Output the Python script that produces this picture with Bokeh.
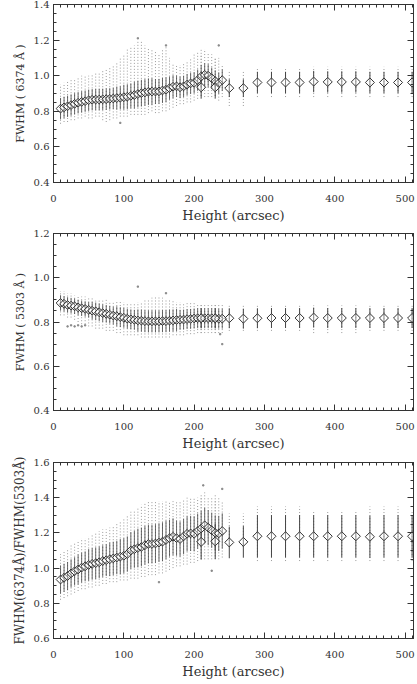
import math
from bokeh.plotting import figure
from bokeh.models import Range1d, LinearAxis, SingleIntervalTicker, PrintfTickFormatter
from bokeh.layouts import column
from bokeh.embed import file_html
from bokeh.resources import INLINE

# ---------------- data ----------------
x_dense = [10, 15, 20, 25, 30, 35, 40, 45, 50, 55, 60, 65, 70, 75, 80, 85, 90, 95,
           100, 105, 110, 115, 120, 125, 130, 135, 140, 145, 150, 155, 160, 165, 170,
           175, 180, 185, 190, 195, 200, 205, 210, 215, 220, 225, 230, 235, 240]
x_sparse = [210, 230, 250, 270, 290, 310, 330, 350, 370, 390, 410, 430, 450, 470, 490, 510]

# panel 1 : FWHM 6374
red_mean = [0.815, 0.822, 0.828, 0.835, 0.842, 0.848, 0.853, 0.857, 0.862, 0.865, 0.866, 0.866,
            0.867, 0.868, 0.870, 0.872, 0.874, 0.876, 0.879, 0.882, 0.887, 0.891, 0.897, 0.902,
            0.906, 0.910, 0.911, 0.911, 0.912, 0.917, 0.921, 0.930, 0.938, 0.940, 0.935, 0.940,
            0.950, 0.957, 0.960, 0.975, 0.995, 1.005, 1.000, 0.986, 0.970, 0.958, 0.975]
red_err = [0.06, 0.06, 0.06, 0.06, 0.06, 0.06, 0.06, 0.06, 0.06, 0.06, 0.06, 0.06,
           0.06, 0.06, 0.06, 0.06, 0.065, 0.065, 0.07, 0.07, 0.07, 0.075, 0.075, 0.075,
           0.075, 0.075, 0.075, 0.07, 0.07, 0.07, 0.07, 0.065, 0.065, 0.06, 0.06, 0.06,
           0.06, 0.06, 0.06, 0.06, 0.065, 0.065, 0.065, 0.06, 0.06, 0.06, 0.06]
red_lo = [0.73, 0.74, 0.74, 0.75, 0.75, 0.76, 0.76, 0.77, 0.76, 0.76, 0.77, 0.77, 0.75, 0.74,
          0.75, 0.76, 0.76, 0.77, 0.77, 0.77, 0.78, 0.78, 0.78, 0.78, 0.78, 0.79, 0.80, 0.79,
          0.79, 0.80, 0.80, 0.81, 0.82, 0.83, 0.84, 0.84, 0.85, 0.85, 0.86, 0.87, 0.87, 0.88,
          0.88, 0.88, 0.87, 0.86, 0.88]
red_hi = [0.95, 0.96, 0.97, 0.98, 0.98, 0.99, 1.00, 1.00, 1.00, 1.01, 1.02, 1.02, 1.03, 1.04,
          1.05, 1.06, 1.08, 1.10, 1.12, 1.15, 1.16, 1.17, 1.20, 1.19, 1.17, 1.16, 1.15, 1.14,
          1.12, 1.15, 1.16, 1.10, 1.07, 1.06, 1.06, 1.07, 1.08, 1.10, 1.12, 1.13, 1.15, 1.15,
          1.13, 1.12, 1.10, 1.10, 1.06]
red_s_mean = [0.935, 0.935, 0.930, 0.930, 0.962, 0.962, 0.962, 0.962, 0.967, 0.965, 0.965,
              0.965, 0.962, 0.962, 0.962, 0.962]
red_s_err = [0.06, 0.06, 0.05, 0.05, 0.06, 0.06, 0.06, 0.06, 0.06, 0.06, 0.06, 0.06, 0.06,
             0.06, 0.06, 0.06]
red_s_lo = [0.87, 0.87, 0.83, 0.83, 0.88, 0.88, 0.88, 0.88, 0.88, 0.88, 0.88, 0.88, 0.88,
            0.88, 0.88, 0.88]
red_s_hi = [1.12, 1.10, 1.03, 1.03, 1.04, 1.04, 1.04, 1.04, 1.05, 1.05, 1.05, 1.05, 1.05,
            1.05, 1.05, 1.05]
red_out_x = [95, 120, 160, 235]
red_out_y = [0.735, 1.21, 1.17, 1.17]

# panel 2 : FWHM 5303
grn_mean = [0.886, 0.882, 0.877, 0.874, 0.871, 0.866, 0.862, 0.859, 0.855, 0.851, 0.848, 0.844,
            0.840, 0.837, 0.833, 0.829, 0.826, 0.822, 0.819, 0.815, 0.812, 0.810, 0.807, 0.806,
            0.804, 0.803, 0.803, 0.803, 0.803, 0.804, 0.804, 0.806, 0.807, 0.809, 0.810, 0.811,
            0.813, 0.814, 0.816, 0.817, 0.817, 0.817, 0.817, 0.817, 0.816, 0.815, 0.815]
grn_err = [0.035, 0.035, 0.035, 0.035, 0.035, 0.035, 0.035, 0.035, 0.035, 0.04, 0.04, 0.04,
           0.04, 0.04, 0.04, 0.04, 0.045, 0.045, 0.045, 0.045, 0.045, 0.045, 0.05, 0.05,
           0.05, 0.05, 0.05, 0.05, 0.05, 0.05, 0.05, 0.05, 0.05, 0.05, 0.045, 0.045,
           0.045, 0.045, 0.045, 0.045, 0.045, 0.045, 0.045, 0.045, 0.045, 0.045, 0.045]
grn_lo = [0.83, 0.83, 0.82, 0.82, 0.81, 0.80, 0.79, 0.79, 0.78, 0.78, 0.77, 0.77, 0.77, 0.76,
          0.76, 0.76, 0.75, 0.75, 0.74, 0.74, 0.74, 0.74, 0.74, 0.73, 0.73, 0.73, 0.73, 0.73,
          0.73, 0.73, 0.73, 0.73, 0.74, 0.74, 0.74, 0.74, 0.745, 0.745, 0.745, 0.75, 0.75,
          0.75, 0.75, 0.75, 0.75, 0.75, 0.75]
grn_hi = [0.94, 0.94, 0.93, 0.93, 0.92, 0.92, 0.915, 0.915, 0.91, 0.91, 0.905, 0.90, 0.90,
          0.90, 0.895, 0.89, 0.89, 0.89, 0.89, 0.885, 0.885, 0.885, 0.89, 0.89, 0.90, 0.90,
          0.91, 0.915, 0.92, 0.91, 0.905, 0.90, 0.895, 0.89, 0.89, 0.885, 0.885, 0.885, 0.885,
          0.885, 0.885, 0.885, 0.885, 0.885, 0.885, 0.885, 0.885]
grn_s_mean = [0.817, 0.817, 0.817, 0.815, 0.817, 0.818, 0.818, 0.818, 0.820, 0.818, 0.818,
              0.818, 0.818, 0.818, 0.818, 0.818]
grn_s_err = [0.045, 0.045, 0.045, 0.045, 0.045, 0.045, 0.045, 0.045, 0.045, 0.045, 0.045,
             0.045, 0.045, 0.045, 0.045, 0.045]
grn_s_lo = [0.75, 0.75, 0.76, 0.76, 0.76, 0.76, 0.76, 0.76, 0.75, 0.75, 0.75, 0.75, 0.76,
            0.76, 0.76, 0.76]
grn_s_hi = [0.885, 0.885, 0.875, 0.875, 0.875, 0.875, 0.875, 0.875, 0.875, 0.875, 0.875,
            0.875, 0.875, 0.875, 0.875, 0.875]
grn_out_x = [20, 25, 30, 35, 40, 45, 120, 160, 237, 240]
grn_out_y = [0.78, 0.785, 0.78, 0.785, 0.78, 0.785, 0.96, 0.93, 0.745, 0.70]

# panel 3 : ratio
rat_mean = [0.935, 0.945, 0.955, 0.970, 0.982, 0.992, 1.003, 1.010, 1.018, 1.024, 1.028, 1.033,
            1.040, 1.045, 1.050, 1.055, 1.060, 1.065, 1.070, 1.080, 1.100, 1.107, 1.114, 1.120,
            1.130, 1.137, 1.137, 1.140, 1.145, 1.150, 1.160, 1.170, 1.178, 1.170, 1.165, 1.180,
            1.195, 1.197, 1.195, 1.210, 1.225, 1.243, 1.230, 1.215, 1.200, 1.197, 1.211]
rat_err = [0.08, 0.08, 0.08, 0.08, 0.08, 0.085, 0.085, 0.085, 0.09, 0.09, 0.09, 0.09,
           0.09, 0.09, 0.095, 0.095, 0.095, 0.10, 0.10, 0.10, 0.105, 0.105, 0.11, 0.11,
           0.11, 0.11, 0.11, 0.11, 0.11, 0.11, 0.11, 0.105, 0.105, 0.10, 0.10, 0.10,
           0.10, 0.10, 0.10, 0.10, 0.10, 0.10, 0.10, 0.10, 0.10, 0.10, 0.10]
rat_lo = [0.82, 0.83, 0.84, 0.85, 0.86, 0.87, 0.88, 0.88, 0.89, 0.89, 0.90, 0.90, 0.91, 0.91,
          0.92, 0.92, 0.92, 0.93, 0.93, 0.93, 0.94, 0.94, 0.94, 0.95, 0.95, 0.96, 0.96, 0.96,
          0.97, 0.97, 0.98, 0.99, 1.00, 1.01, 1.01, 1.02, 1.02, 1.03, 1.03, 1.04, 1.05, 1.05,
          1.05, 1.05, 1.05, 1.05, 1.06]
rat_hi = [1.08, 1.10, 1.11, 1.13, 1.14, 1.16, 1.17, 1.17, 1.18, 1.19, 1.20, 1.21, 1.22, 1.22,
          1.23, 1.24, 1.25, 1.27, 1.28, 1.30, 1.32, 1.33, 1.34, 1.36, 1.37, 1.38, 1.38, 1.38,
          1.38, 1.38, 1.38, 1.38, 1.38, 1.38, 1.38, 1.39, 1.40, 1.40, 1.40, 1.40, 1.42, 1.43,
          1.40, 1.40, 1.42, 1.40, 1.38]
rat_s_mean = [1.149, 1.152, 1.146, 1.149, 1.181, 1.181, 1.181, 1.181, 1.181, 1.181, 1.181,
              1.181, 1.178, 1.181, 1.181, 1.181]
rat_s_err = [0.10, 0.10, 0.09, 0.09, 0.12, 0.12, 0.12, 0.12, 0.12, 0.12, 0.12, 0.12, 0.12,
             0.12, 0.12, 0.12]
rat_s_lo = [1.05, 1.05, 1.12, 1.12, 1.04, 1.04, 1.04, 1.04, 1.04, 1.04, 1.04, 1.04, 1.04,
            1.04, 1.04, 1.04]
rat_s_hi = [1.40, 1.38, 1.31, 1.31, 1.35, 1.35, 1.35, 1.35, 1.33, 1.33, 1.33, 1.33, 1.35,
            1.35, 1.35, 1.33]
rat_out_x = [213, 240, 225, 150]
rat_out_y = [1.47, 1.45, 0.985, 0.92]

x_title = "Height (arcsec)"
y_titles = ["FWHM ( 6374 Å )", "FWHM ( 5303 Å )", "FWHM(6374Å)/FWHM(5303Å)"]
y_limits = [(0.4, 1.4), (0.4, 1.2), (0.6, 1.6)]

# ---------------- styling ----------------
FONT = "DejaVu Serif"
INK = "#333333"
DOT = "#9a9a9a"


def style_axis(ax, labels, ylab_size="11px"):
    ax.major_tick_in = 6
    ax.major_tick_out = 0
    ax.minor_tick_in = 3
    ax.minor_tick_out = 0
    ax.axis_line_color = INK
    ax.major_tick_line_color = INK
    ax.minor_tick_line_color = INK
    if labels:
        ax.major_label_text_font = FONT
        ax.major_label_text_font_size = "10px"
        ax.major_label_text_color = INK
        ax.axis_label_text_font = FONT
        ax.axis_label_text_font_size = ylab_size
        ax.axis_label_text_font_style = "normal"
        ax.axis_label_text_color = INK
    else:
        ax.major_label_text_color = None
        ax.major_label_standoff = 0
        ax.axis_label = None


def panel(height, border_top, border_bottom, ylim, ytitle, ylab_size,
          m_d, e_d, lo_d, hi_d, m_s, e_s, lo_s, hi_s, ox, oy):
    p = figure(width=417, height=height, output_backend="svg", toolbar_location=None,
               x_range=Range1d(0, 512), y_range=Range1d(ylim[0], ylim[1] + 1e-6),
               x_axis_location=None, y_axis_location=None,
               min_border_left=53, min_border_right=4,
               min_border_top=border_top, min_border_bottom=border_bottom)
    p.xgrid.visible = False
    p.ygrid.visible = False
    p.outline_line_color = INK
    p.background_fill_color = "white"
    p.border_fill_color = "white"

    def xt():
        return SingleIntervalTicker(interval=100, num_minor_ticks=10)

    def yt():
        return SingleIntervalTicker(interval=0.2, num_minor_ticks=4)

    bx = LinearAxis(ticker=xt(), axis_label=x_title)
    style_axis(bx, True, "13px")
    bx.major_label_standoff = 12
    bx.axis_label_standoff = 3
    p.add_layout(bx, "below")
    tx = LinearAxis(ticker=xt())
    style_axis(tx, False)
    p.add_layout(tx, "above")
    ly = LinearAxis(ticker=yt(), axis_label=ytitle,
                    formatter=PrintfTickFormatter(format="%.1f"))
    style_axis(ly, True, ylab_size)
    ly.major_label_standoff = 4
    ly.axis_label_standoff = 4
    p.add_layout(ly, "left")
    ry = LinearAxis(ticker=yt())
    style_axis(ry, False)
    p.add_layout(ry, "right")

    # scatter of individual measurements (dotted columns)
    p.segment(x0=x_dense, y0=lo_d, x1=x_dense, y1=hi_d,
              line_color=DOT, line_width=1, line_dash="1 2")
    p.segment(x0=x_sparse, y0=lo_s, x1=x_sparse, y1=hi_s,
              line_color=DOT, line_width=1, line_dash="1 2")
    p.scatter(x=ox, y=oy, marker="square", size=1.3, color="#8a8a8a")
    # error bars
    p.segment(x0=x_dense, y0=[m - e for m, e in zip(m_d, e_d)],
              x1=x_dense, y1=[m + e for m, e in zip(m_d, e_d)],
              line_color="#444444", line_width=1, line_alpha=0.8)
    p.segment(x0=x_sparse, y0=[m - e for m, e in zip(m_s, e_s)],
              x1=x_sparse, y1=[m + e for m, e in zip(m_s, e_s)],
              line_color="#444444", line_width=1)
    # mean values: open diamonds
    p.scatter(x=x_dense, y=m_d, marker="square", angle=math.pi / 4, size=6.2,
              fill_color="white", fill_alpha=0.35, line_color=INK, line_width=1)
    p.scatter(x=x_sparse, y=m_s, marker="square", angle=math.pi / 4, size=6.4,
              fill_color="white", fill_alpha=0.35, line_color=INK, line_width=1)
    return p


p1 = panel(225, 4, 42, y_limits[0], y_titles[0], "11px",
           red_mean, red_err, red_lo, red_hi, red_s_mean, red_s_err, red_s_lo, red_s_hi,
           red_out_x, red_out_y)
p2 = panel(229, 8, 44, y_limits[1], y_titles[1], "11px",
           grn_mean, grn_err, grn_lo, grn_hi, grn_s_mean, grn_s_err, grn_s_lo, grn_s_hi,
           grn_out_x, grn_out_y)
p3 = panel(230, 8, 46, y_limits[2], y_titles[2], "12px",
           rat_mean, rat_err, rat_lo, rat_hi, rat_s_mean, rat_s_err, rat_s_lo, rat_s_hi,
           rat_out_x, rat_out_y)

layout = column(p1, p2, p3, spacing=0)
open("out.html", "w").write(file_html(layout, INLINE))
